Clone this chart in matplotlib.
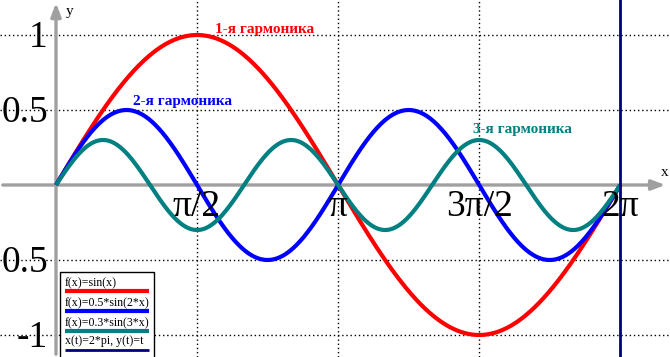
import numpy as np
import matplotlib
matplotlib.use("Agg")
import matplotlib.pyplot as plt

# Data: harmonics shown in the chart
amplitudes = [1.0, 0.5, 0.3]
harmonics = [1, 2, 3]
colors = ["#ff0000", "#0000ff", "#008080"]
legend_labels = ["f(x)=sin(x)", "f(x)=0.5*sin(2*x)", "f(x)=0.3*sin(3*x)", "x(t)=2*pi, y(t)=t"]
annot_labels = ["1-я гармоника", "2-я гармоника", "3-я гармоника"]
xtick_pos = [np.pi / 2, np.pi, 3 * np.pi / 2, 2 * np.pi]
xtick_labels = ["π/2", "π", "3π/2", "2π"]
ytick_pos = [1, 0.5, -0.5, -1]
ytick_labels = ["1", "0.5", "0.5", "-1"]

W, H = 670, 357
fig = plt.figure(figsize=(W / 100, H / 100), dpi=100)
ax = fig.add_axes([0, 0, 1, 1])
ax.set_axis_off()
x0px, sx = 56.0, 89.8
y0px, sy = 185.0, 150.0
ax.set_xlim(-x0px / sx, (W - x0px) / sx)
ax.set_ylim(-(H - y0px) / sy, y0px / sy)
xmin, xmax = ax.get_xlim()
ymin, ymax = ax.get_ylim()

def tx(px):
    return xmin + px / W * (xmax - xmin)
def ty(py):
    return ymax - py / H * (ymax - ymin)

serif = ["Liberation Serif", "DejaVu Serif"]

# grid
for xv in xtick_pos[:3]:
    ax.axvline(xv, color="black", lw=1, ls=(0, (1, 2)), zorder=1)
for yv in ytick_pos:
    ax.axhline(yv, color="black", lw=1, ls=(0, (1, 2)), zorder=1)

# axes with arrows
ax.annotate("", xy=(0, ymax), xytext=(0, ymin),
            arrowprops=dict(arrowstyle="-|>,head_length=0.8,head_width=0.3", color="#a0a0a0", lw=2.4), zorder=2)
ax.annotate("", xy=(xmax - 0.02, 0), xytext=(xmin, 0),
            arrowprops=dict(arrowstyle="-|>,head_length=0.8,head_width=0.3", color="#a0a0a0", lw=2.4), zorder=2)
ax.text(tx(70), ty(11), "y", family=serif, fontsize=11, ha="center", va="center")
ax.text(tx(665), ty(172), "x", family=serif, fontsize=11, ha="center", va="center")

# curves
x = np.linspace(0, 2 * np.pi, 600)
for a, k, c in zip(amplitudes, harmonics, colors):
    ax.plot(x, a * np.sin(k * x), color=c, lw=3, zorder=3, solid_capstyle="butt")
ax.axvline(2 * np.pi, color="#000080", lw=2, zorder=4)

# tick labels
for xv, lab in zip(xtick_pos, xtick_labels):
    ax.text(xv, -0.03, lab, family=serif, fontsize=27, ha="center", va="top", zorder=5)
for yv, lab in zip(ytick_pos, ytick_labels):
    ax.text(-0.09, yv - 0.02, lab, family=serif, fontsize=27, ha="right", va="center", zorder=5)

# annotations
annot_px = [(215, 29), (133, 101), (473, 130)]
for (px, py), lab, c in zip(annot_px, annot_labels, colors):
    ax.text(tx(px), ty(py), lab, family=serif, fontsize=11, fontweight="bold", color=c,
            ha="left", va="center", zorder=5)

# legend box (manual)
lx0, lx1 = 60, 154
ly0, ly1 = 272, 357
rect = plt.Rectangle((tx(lx0), ty(ly1 + 2)), tx(lx1) - tx(lx0), ty(ly0) - ty(ly1 + 2),
                     facecolor="white", edgecolor="black", lw=1, zorder=6)
ax.add_patch(rect)
leg_colors = colors + ["#000080"]
text_y = [283, 303, 323, 341]
line_y = [291, 311, 331, 350]
for lab, c, typ, lyp in zip(legend_labels, leg_colors, text_y, line_y):
    ax.text(tx(65), ty(typ), lab, family=serif, fontsize=8.6, ha="left", va="center", zorder=7)
    ax.plot([tx(65), tx(149)], [ty(lyp), ty(lyp)], color=c, lw=3 if c != "#000080" else 2,
            zorder=7, solid_capstyle="butt")

fig.savefig("out.png", dpi=100)
